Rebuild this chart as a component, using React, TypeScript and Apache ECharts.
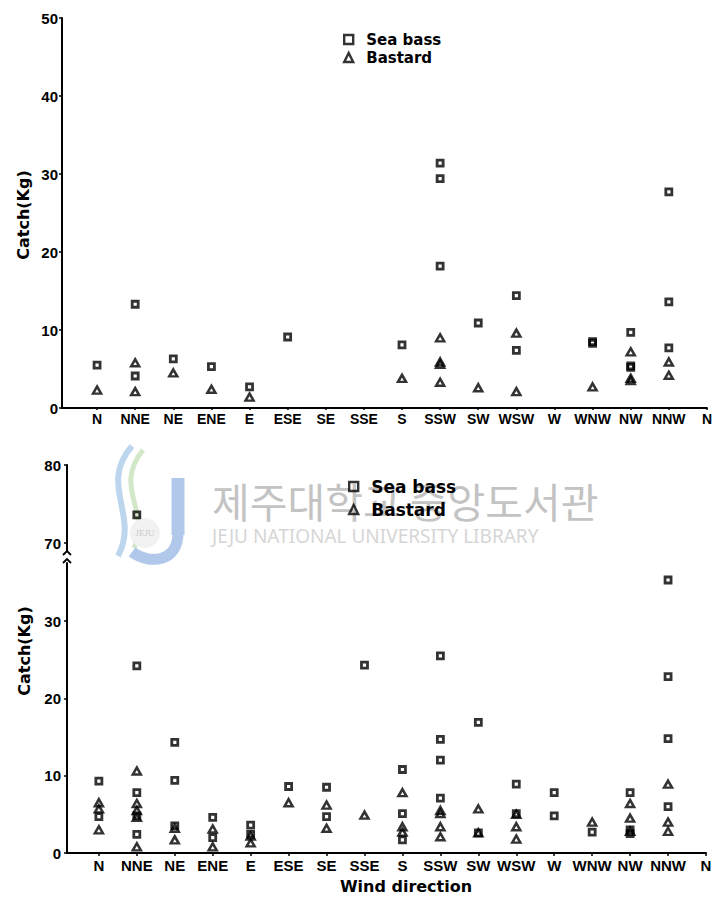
import React, { useEffect, useRef } from 'react';
import * as echarts from 'echarts';

// ---------- data ----------
const directions = ['N', 'NNE', 'NE', 'ENE', 'E', 'ESE', 'SE', 'SSE', 'S', 'SSW', 'SW', 'WSW', 'W', 'WNW', 'NW', 'NNW', 'N'];

// catches (kg) per wind direction, index matches `directions`
const topSeaBass: number[][] = [
  [5.5], [13.3, 4.1], [6.3], [5.3], [2.7], [9.1], [], [], [8.1], [31.4, 29.4, 18.2],
  [10.9], [14.4, 7.4], [], [8.5, 8.3], [9.7, 5.4, 5.2], [27.7, 13.6, 7.7],
];
const topBastard: number[][] = [
  [2.3], [5.8, 2.1], [4.5], [2.4], [1.4], [], [], [], [3.8], [9.0, 5.9, 5.6, 3.3],
  [2.6], [9.6, 2.1], [], [2.7], [7.2, 3.8, 3.5], [5.9, 4.2],
];
const bottomSeaBass: number[][] = [
  [9.3, 4.7], [73.6, 24.2, 7.8, 4.8, 2.4], [14.3, 9.4, 3.5], [4.6, 2.0], [3.6, 2.4], [8.6],
  [8.5, 4.7], [24.3], [10.8, 5.1, 1.7], [25.5, 14.7, 12.0, 7.1], [16.9, 2.6], [8.9, 5.1],
  [7.8, 4.8], [2.7], [7.8, 3.0, 2.5], [35.3, 22.8, 14.8, 6.0],
];
const bottomBastard: number[][] = [
  [6.5, 5.7, 3.0], [10.6, 6.4, 5.5, 4.6, 0.8], [3.2, 1.7], [3.1, 0.8], [2.2, 1.3], [6.5],
  [6.2, 3.2], [4.9], [7.8, 3.4, 2.7], [5.5, 5.1, 3.4, 2.1], [5.7, 2.6], [5.0, 3.4, 1.8],
  [], [4.0], [6.4, 4.5, 2.8], [8.9, 4.0, 2.8],
];

const topYRange = [0, 50];
const lowerYRange = [0, 37.5];
const upperYRange = [70, 80];
const yStep = 10;
const seriesNames = ['Sea bass', 'Bastard'];

function toPoints(values: number[][], keep: (v: number) => boolean): number[][] {
  const pts: number[][] = [];
  values.forEach((list, i) => list.forEach((v) => { if (keep(v)) pts.push([i, v]); }));
  return pts;
}

const LABEL_FONT = "'Liberation Sans Narrow', 'Liberation Sans', Arial, sans-serif";
const BOLD_FONT = "'DejaVu Sans', 'Liberation Sans', sans-serif";

const xLabel = (v: number) => {
  const i = Math.round(v);
  return Math.abs(v - i) < 1e-6 && i >= 0 && i < directions.length ? directions[i] : '';
};

function xAxisOpt(gridIndex: number, min: number, show: boolean, fontSize: number, margin: number, tickLen: number) {
  return {
    type: 'value', gridIndex, min, max: 16, splitNumber: 17, minInterval: 1, maxInterval: 1,
    show,
    splitLine: { show: false },
    axisLine: { show: true, onZero: false, lineStyle: { color: '#000', width: 2 } },
    axisTick: { show: true, length: tickLen, lineStyle: { color: '#000', width: 1.5 } },
    axisLabel: {
      show: true, showMinLabel: false, margin, formatter: xLabel, color: '#000',
      fontFamily: LABEL_FONT, fontWeight: 'bold', fontSize,
    },
  };
}

function yAxisOpt(gridIndex: number, range: number[], margin: number) {
  return {
    type: 'value', gridIndex, min: range[0], max: range[1], interval: yStep,
    splitLine: { show: false },
    axisLine: { show: true, onZero: false, lineStyle: { color: '#000', width: 2 } },
    axisTick: { show: true, length: 3, lineStyle: { color: '#000', width: 1.5 } },
    axisLabel: {
      showMaxLabel: range[1] % yStep === 0, margin, color: '#000',
      fontFamily: "'Liberation Sans', Arial, sans-serif", fontWeight: 'bold', fontSize: 15,
      formatter: (v: number) => (v % yStep === 0 ? String(v) : ''),
    },
  };
}

const squareStyle = { color: 'rgba(0,0,0,0)', borderColor: '#000', borderWidth: 2.8 };
const triStyle = { color: 'rgba(0,0,0,0)', borderColor: '#000', borderWidth: 2.5 };

function scatter(name: string, idx: number, data: number[][], isSquare: boolean) {
  return {
    type: 'scatter', name, xAxisIndex: idx, yAxisIndex: idx, data,
    symbol: isSquare ? 'rect' : 'triangle',
    symbolSize: isSquare ? 6 : [8, 7],
    itemStyle: isSquare ? squareStyle : triStyle,
    emphasis: { disabled: true },
    z: 3,
  };
}

function legendOpt(left: number, top: number, fontSize: number, itemGap: number) {
  return {
    data: seriesNames, orient: 'vertical', left, top, itemWidth: 9, itemHeight: 9,
    itemGap, selectedMode: false,
    itemStyle: { borderWidth: 2.4, borderColor: '#000', color: 'rgba(0,0,0,0)' },
    textStyle: { color: '#000', fontSize, fontWeight: 'bold', fontFamily: BOLD_FONT, padding: [0, 0, 0, 8] },
  };
}

function textEl(text: string, x: number, y: number, fontSize: number, extra: any = {}) {
  return {
    type: 'text', x, y, z: 5, ...extra,
    style: {
      text, fill: '#000', fontSize, fontWeight: 'bold', fontFamily: BOLD_FONT,
      align: 'center', verticalAlign: 'middle', textAlign: 'center', textVerticalAlign: 'middle',
    },
  };
}

export default function App() {
  const ref = useRef<HTMLDivElement>(null);
  useEffect(() => {
    if (!ref.current) return;
    const chart = echarts.init(ref.current, null, { renderer: 'svg' });
    const option: any = {
      animation: false,
      backgroundColor: '#fff',
      grid: [
        { left: 62, top: 18, width: 648, height: 390 },
        { left: 67, top: 465, width: 639, height: 78 },
        { left: 67, top: 563, width: 639, height: 290 },
      ],
      xAxis: [
        xAxisOpt(0, -0.92, true, 14, 4, 2),
        xAxisOpt(1, -0.84, false, 15, 5, 3),
        xAxisOpt(2, -0.84, true, 15, 5, 3),
      ],
      yAxis: [
        yAxisOpt(0, topYRange, 4),
        yAxisOpt(1, upperYRange, 6),
        yAxisOpt(2, lowerYRange, 6),
      ],
      legend: [
        legendOpt(338, 27, 15, 3),
        legendOpt(343, 473, 17, 6),
      ],
      series: [
        scatter(seriesNames[0], 0, toPoints(topSeaBass, () => true), true),
        scatter(seriesNames[1], 0, toPoints(topBastard, () => true), false),
        scatter(seriesNames[0], 1, toPoints(bottomSeaBass, (v) => v >= upperYRange[0]), true),
        scatter(seriesNames[1], 1, toPoints(bottomBastard, (v) => v >= upperYRange[0]), false),
        scatter(seriesNames[0], 2, toPoints(bottomSeaBass, (v) => v <= lowerYRange[1]), true),
        scatter(seriesNames[1], 2, toPoints(bottomBastard, (v) => v <= lowerYRange[1]), false),
      ],
      graphic: [
        // watermark (library stamp)
        { type: 'bezierCurve', z: 0, shape: { x1: 132, y1: 446, cpx1: 98, cpy1: 485, cpx2: 140, cpy2: 515, x2: 118, y2: 556 }, style: { stroke: '#bcd6ee', lineWidth: 6, fill: null } },
        { type: 'bezierCurve', z: 0, shape: { x1: 143, y1: 450, cpx1: 112, cpy1: 488, cpx2: 152, cpy2: 512, x2: 134, y2: 548 }, style: { stroke: '#d3e8c8', lineWidth: 5, fill: null } },
        { type: 'polyline', z: 0, shape: { points: [[178, 478], [178, 535]] }, style: { stroke: '#b2c8ea', lineWidth: 13 } },
        { type: 'bezierCurve', z: 0, shape: { x1: 178, y1: 533, cpx1: 178, cpy1: 562, cpx2: 150, cpy2: 565, x2: 132, y2: 552 }, style: { stroke: '#b2c8ea', lineWidth: 11, fill: null } },
        { type: 'circle', z: 0, shape: { cx: 145, cy: 533, r: 15 }, style: { fill: '#f2f2f2' } },
        { type: 'text', z: 0, x: 145, y: 533, style: { text: 'JEJU', fill: '#c9c9c9', fontSize: 9, fontFamily: 'serif', align: 'center', verticalAlign: 'middle', textAlign: 'center', textVerticalAlign: 'middle' } },
        { type: 'text', z: 0, x: 212, y: 500, style: { text: '제주대학교 중앙도서관', fill: '#c3c3c3', fontSize: 41, fontFamily: "'Noto Sans CJK KR', sans-serif", align: 'left', verticalAlign: 'middle', textAlign: 'left', textVerticalAlign: 'middle' } },
        { type: 'text', z: 0, x: 212, y: 536, style: { text: 'JEJU NATIONAL UNIVERSITY LIBRARY', fill: '#d6d6d6', fontSize: 19, fontFamily: "'Noto Sans', sans-serif", align: 'left', verticalAlign: 'middle', textAlign: 'left', textVerticalAlign: 'middle' } },
        // axis break on the lower y axis
        { type: 'line', z: 5, shape: { x1: 67, y1: 543, x2: 67, y2: 551 }, style: { stroke: '#000', lineWidth: 2 } },
        { type: 'polyline', z: 5, shape: { points: [[63, 555], [67, 551], [71, 555]] }, style: { stroke: '#000', lineWidth: 1.8, fill: null } },
        { type: 'polyline', z: 5, shape: { points: [[63, 563], [67, 559], [71, 563]] }, style: { stroke: '#000', lineWidth: 1.8, fill: null } },
        // axis names
        textEl('Catch(Kg)', 23, 215, 16, { rotation: Math.PI / 2 }),
        textEl('Catch(Kg)', 24, 651, 16, { rotation: Math.PI / 2 }),
        textEl('Wind direction', 406, 886, 16),
      ],
    };
    chart.setOption(option);
    return () => chart.dispose();
  }, []);
  return <div ref={ref} style={{ position: 'absolute', left: 0, top: 0, width: 715, height: 898 }} />;
}
